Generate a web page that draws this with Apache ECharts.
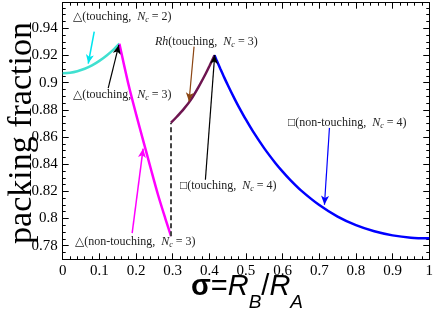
<!DOCTYPE html>
<html><head><meta charset="utf-8">
<script src="https://cdn.jsdelivr.net/npm/echarts@6/dist/echarts.min.js"></script>
<style>html,body{margin:0;padding:0;background:#fff}#c{width:436px;height:312px}</style>
</head><body><div id="c"></div>
<script>
// ---- data ----
const cyanX = [0, 0.02, 0.04, 0.06, 0.08, 0.10, 0.12, 0.14, 0.1547];
const cyanY = [0.9069, 0.9073, 0.9084, 0.9102, 0.9127, 0.9160, 0.9200, 0.9247, 0.9286];
const magentaX = [0.1547, 0.18, 0.20, 0.22, 0.24, 0.26, 0.28, 0.2955];
const magentaY = [0.9286, 0.898, 0.877, 0.857, 0.837, 0.8175, 0.800, 0.787];
const dashX = [0.2955, 0.2955];
const dashY = [0.787, 0.8705];
const purpleX = [0.2955, 0.31, 0.33, 0.35, 0.37, 0.39, 0.40, 0.4142];
const purpleY = [0.8705, 0.8745, 0.8805, 0.8875, 0.8965, 0.9065, 0.912, 0.9202];
const blueX = [0.4142, 0.42, 0.43, 0.44, 0.45, 0.47, 0.48, 0.50, 0.52, 0.55, 0.58, 0.60, 0.62, 0.65, 0.70, 0.75, 0.80, 0.85, 0.90, 0.95, 1.00];
const blueY = [0.9202, 0.9164, 0.9102, 0.9042, 0.8984, 0.8875, 0.8824, 0.8727, 0.8637, 0.8516, 0.8409, 0.8345, 0.8286, 0.8207, 0.8099, 0.8014, 0.7951, 0.7906, 0.7876, 0.7859, 0.7854];
const yMajorTicks = [0.78, 0.80, 0.82, 0.84, 0.86, 0.88, 0.90, 0.92, 0.94];
const yMinorTicks = [0.775, 0.785, 0.79, 0.795, 0.805, 0.81, 0.815, 0.825, 0.83, 0.835, 0.845, 0.85, 0.855, 0.865, 0.87, 0.875, 0.885, 0.89, 0.895, 0.905, 0.91, 0.915, 0.925, 0.93, 0.935, 0.945, 0.95, 0.955];
// annotation arrows: [fromX, fromY, toX, toY]
const arrowCyan = [0.0860, 0.9375, 0.0697, 0.9140];
const arrowTri3 = [0.1241, 0.8959, 0.1533, 0.9277];
const arrowRh = [0.3583, 0.9265, 0.3447, 0.8861];
const arrowSq4 = [0.3893, 0.8285, 0.4147, 0.9204];
const arrowSqNT = [0.7277, 0.8667, 0.7141, 0.8101];
const arrowTriNT = [0.1895, 0.7893, 0.2194, 0.8515];

const zip = (xs, ys) => xs.map((x, i) => [x, ys[i]]);
const SERIF = '"Liberation Serif","DejaVu Serif",serif';
const SANS = '"Liberation Sans",Arial,sans-serif';
const fmt = v => String(parseFloat(Number(v).toFixed(3)));

const chart = echarts.init(document.getElementById('c'), null, {renderer: 'canvas'});
const ax = {color: '#000', width: 1};
function xAx(pos, labels) {
  return {type: 'value', position: pos, min: 0, max: 1, interval: 0.1,
    axisLine: {show: true, onZero: false, lineStyle: ax},
    axisTick: {show: true, inside: true, length: 6, lineStyle: ax},
    minorTick: {show: true, splitNumber: 5, length: 3, lineStyle: ax},
    splitLine: {show: false}, minorSplitLine: {show: false},
    axisLabel: {show: labels, margin: 4, fontFamily: SERIF, fontSize: 15, color: '#000', formatter: fmt}};
}
function yAx(pos, labels, ticks, len) {
  return {type: 'value', position: pos, min: 0.77, max: 0.9588,
    axisLine: {show: true, onZero: false, lineStyle: ax},
    axisTick: {show: true, inside: true, length: len, customValues: ticks, lineStyle: ax},
    splitLine: {show: false},
    axisLabel: {show: labels, customValues: ticks, margin: 5, fontFamily: SERIF, fontSize: 15, color: '#000', formatter: fmt}};
}
function arrowLine(a, color, w) {
  return [{coord: [a[0], a[1]], lineStyle: {color: color, width: w}}, {coord: [a[2], a[3]]}];
}
const rich = {
  t: {fontFamily: SERIF, fontSize: 12, fill: '#222'},
  i: {fontFamily: SERIF, fontSize: 12, fontStyle: 'italic', fill: '#222'},
  s: {fontFamily: SERIF, fontSize: 8, fontStyle: 'italic', fill: '#222', padding: [6, 0, 0, 0]}
};
function txt(x, y, str) {
  return {type: 'text', x: x, y: y, style: {text: str, rich: rich, fontFamily: SERIF, fontSize: 12, fill: '#222', verticalAlign: 'middle'}};
}
chart.setOption({
  animation: false,
  grid: {left: 62.7, right: 6, top: 2.7, bottom: 52.7, containLabel: false},
  xAxis: [xAx('bottom', true), xAx('top', false)],
  yAxis: [yAx('left', true, yMajorTicks, 6), yAx('left', false, yMinorTicks, 3),
          yAx('right', false, yMajorTicks, 6), yAx('right', false, yMinorTicks, 3)],
  series: [
    {type: 'line', data: zip(cyanX, cyanY), smooth: 0.3, symbol: 'none', lineStyle: {color: '#40E0D0', width: 2.5}},
    {type: 'line', data: zip(magentaX, magentaY), smooth: 0.3, symbol: 'none', lineStyle: {color: '#FF00FF', width: 2.5}},
    {type: 'line', data: zip(dashX, dashY), symbol: 'none', lineStyle: {color: '#444', width: 2, type: [5, 3]}},
    {type: 'line', data: zip(purpleX, purpleY), smooth: 0.3, symbol: 'none', lineStyle: {color: '#6E1550', width: 2.5}},
    {type: 'line', data: zip(blueX, blueY), smooth: 0.3, symbol: 'none', lineStyle: {color: '#0000FF', width: 2.5},
      markLine: {silent: true, symbol: ['none', 'arrow'], symbolSize: [6, 9], label: {show: false},
        lineStyle: {type: 'solid', width: 1.2},
        data: [
          arrowLine(arrowCyan, '#00E5EE', 1.5),
          arrowLine(arrowTri3, '#000', 1.2),
          arrowLine(arrowRh, '#8B4513', 1.2),
          arrowLine(arrowSq4, '#000', 1.2),
          arrowLine(arrowSqNT, '#0000FF', 1.2),
          arrowLine(arrowTriNT, '#FF00FF', 1.5)
        ]}}
  ],
  graphic: [
    txt(73, 17, '{t|△(touching,  }{i|N}{s|c}{t| = 2)}'),
    txt(73, 95, '{t|△(touching,  }{i|N}{s|c}{t| = 3)}'),
    txt(155, 42, '{i|Rh}{t|(touching,  }{i|N}{s|c}{t| = 3)}'),
    txt(180, 186, '{t|□(touching,  }{i|N}{s|c}{t| = 4)}'),
    txt(288, 123, '{t|□(non-touching,  }{i|N}{s|c}{t| = 4)}'),
    txt(75, 242, '{t|△(non-touching,  }{i|N}{s|c}{t| = 3)}'),
    {type: 'text', x: 22, y: 133, rotation: Math.PI / 2,
      style: {text: 'packing fraction', fontFamily: SERIF, fontSize: 34, fill: '#000', align: 'center', verticalAlign: 'middle'}},
    {type: 'text', x: 247, y: 287,
      style: {text: '{a|σ}{b|=}{r|R}{u|B}{b|/}{r|R}{u|A}', align: 'center', verticalAlign: 'middle',
        rich: {
          a: {fontFamily: SANS, fontSize: 29, fontWeight: 'bold', fill: '#000'},
          b: {fontFamily: SANS, fontSize: 29, fill: '#000'},
          r: {fontFamily: SANS, fontSize: 29, fontStyle: 'italic', fill: '#000'},
          u: {fontFamily: SANS, fontSize: 19, fontStyle: 'italic', fill: '#000', padding: [32, 0, 0, 0]}
        }}}
  ]
});
</script></body></html>
